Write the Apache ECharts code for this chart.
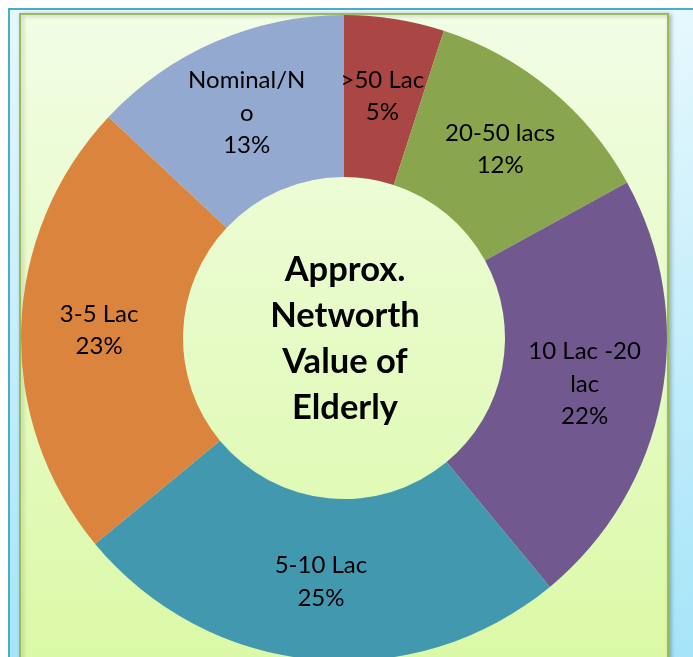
<!DOCTYPE html>
<html>
<head>
<meta charset="utf-8">
<script src="https://cdn.jsdelivr.net/npm/echarts@6/dist/echarts.min.js"></script>
<style>
  html, body { margin: 0; padding: 0; background: #ffffff; }
  #chart { width: 693px; height: 657px; }
</style>
</head>
<body>
<div id="chart"></div>
<script>
// ---- data ----
var categories = ['>50 Lac', '20-50 lacs', '10 Lac -20 lac', '5-10 Lac', '3-5 Lac', 'Nominal/No'];
var labelLines = ['>50 Lac', '20-50 lacs', '10 Lac -20\nlac', '5-10 Lac', '3-5 Lac', 'Nominal/N\no'];
var values = [5, 12, 22, 25, 23, 13];
var colors = ['#AA4643', '#89A54E', '#71588F', '#4198AF', '#DB843D', '#93A9CF'];
var centerTitle = 'Approx.\nNetworth\nValue of\nElderly';

var chart = echarts.init(document.getElementById('chart'), null, { renderer: 'canvas' });

var data = categories.map(function (c, i) {
  return { name: c, value: values[i], itemStyle: { color: colors[i] } };
});

var option = {
  animation: false,
  backgroundColor: '#ffffff',
  graphic: [
    {
      type: 'rect', z: -20,
      shape: { x: 9, y: 9, width: 700, height: 660 },
      style: {
        fill: new echarts.graphic.LinearGradient(0, 0, 0, 1, [
          { offset: 0, color: '#e6f8fd' },
          { offset: 1, color: '#a4e4f9' }
        ]),
        stroke: '#4bacc6', lineWidth: 2
      }
    },
    {
      type: 'rect', z: -19,
      shape: { x: 20, y: 14, width: 648, height: 660 },
      style: {
        fill: new echarts.graphic.LinearGradient(0, 0, 0, 1, [
          { offset: 0, color: '#f2fde5' },
          { offset: 1, color: '#daf9a5' }
        ]),
        stroke: '#9bbb59', lineWidth: 2,
        shadowBlur: 4, shadowColor: 'rgba(0,0,0,0.25)', shadowOffsetX: 2, shadowOffsetY: 1
      }
    },
    {
      type: 'text', z: 10,
      x: 345, y: 339,
      style: {
        text: centerTitle,
        font: 'bold 34.5px Lato',
        fill: '#000000',
        align: 'center',
        verticalAlign: 'middle',
        lineHeight: 46
      }
    }
  ],
  series: [
    {
      type: 'pie',
      z: 2,
      center: [344, 338],
      radius: [161, 323],
      startAngle: 90,
      clockwise: true,
      avoidLabelOverlap: false,
      itemStyle: { borderWidth: 0 },
      label: {
        show: true,
        position: 'inside',
        color: '#000000',
        fontFamily: 'Lato',
        fontSize: 24,
        lineHeight: 32.5,
        formatter: function (p) {
          return labelLines[p.dataIndex] + '\n' + p.value + '%';
        }
      },
      labelLine: { show: false },
      emphasis: { disabled: true },
      data: data
    }
  ]
};

chart.setOption(option);
</script>
</body>
</html>
